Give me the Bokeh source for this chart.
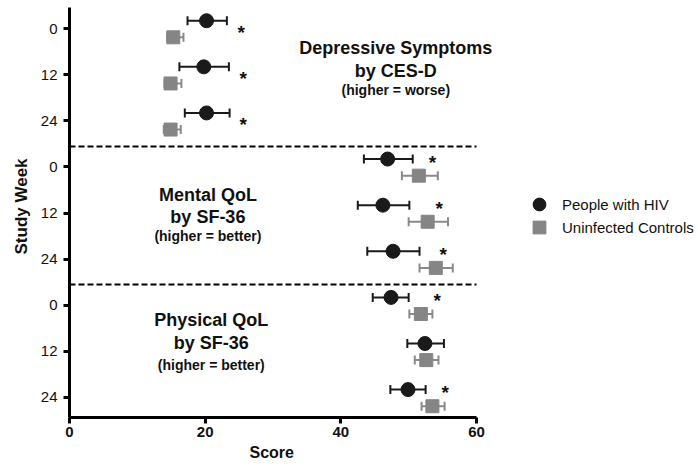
from bokeh.plotting import figure
from bokeh.models import (Range1d, FixedTicker, Whisker, ColumnDataSource, Legend,
                          LegendItem, Label, TeeHead, Title)
from bokeh.embed import file_html
from bokeh.resources import INLINE
from bokeh.core.properties import value

FONT = "Liberation Sans"

# ---------------- data ----------------
weeks = ["0", "12", "24"]
groups = ["Depressive Symptoms", "Mental QoL", "Physical QoL"]
hiv_mean = [20.2, 19.8, 20.2, 46.9, 46.2, 47.7, 47.4, 52.4, 49.9]
hiv_lo = [17.4, 16.2, 17.0, 43.4, 42.5, 43.9, 44.7, 49.8, 47.3]
hiv_hi = [23.2, 23.5, 23.6, 50.6, 50.1, 51.6, 50.0, 55.2, 52.5]
ctl_mean = [15.3, 14.9, 14.9, 51.5, 52.8, 54.0, 51.8, 52.6, 53.5]
ctl_lo = [14.4, 14.0, 13.9, 49.0, 50.0, 51.6, 50.1, 50.9, 51.9]
ctl_hi = [16.8, 16.5, 16.4, 54.3, 55.8, 56.5, 53.5, 54.4, 55.3]
significant = [True, True, True, True, True, True, True, False, True]
star_x = [25.3, 25.6, 25.6, 53.5, 54.5, 55.1, 54.2, 0, 55.4]
x_ticks = [0, 20, 40, 60]
x_axis_max = 60

rows = list(range(len(hiv_mean)))
hiv_y = [r - 0.17 for r in rows]
ctl_y = [r + 0.19 for r in rows]

hiv_src = ColumnDataSource(dict(x=hiv_mean, y=hiv_y, lo=hiv_lo, hi=hiv_hi))
ctl_src = ColumnDataSource(dict(x=ctl_mean, y=ctl_y, lo=ctl_lo, hi=ctl_hi))

# frame: 0..60 spans 407 px; frame extended to the right to host the legend
frame_w = 629
p = figure(width=698, height=467, output_backend="svg", toolbar_location=None,
           x_range=Range1d(0, x_axis_max * frame_w / 407.0),
           y_range=Range1d(8.435, -0.457),
           min_border_left=69, min_border_right=0, min_border_top=7,
           min_border_bottom=50)
p.outline_line_color = None
p.xgrid.visible = False
p.ygrid.visible = False

# error bars
for src, col in ((hiv_src, "#1a1a1a"), (ctl_src, "#8a8a8a")):
    w = Whisker(base="y", lower="lo", upper="hi", dimension="width", source=src,
                line_color=col, line_width=2,
                upper_head=TeeHead(size=9, line_color=col, line_width=2),
                lower_head=TeeHead(size=9, line_color=col, line_width=2))
    w.level = "underlay"
    p.add_layout(w)

r_hiv = p.scatter("x", "y", source=hiv_src, marker="circle", size=14,
                  fill_color="#1a1a1a", line_color="#1a1a1a")
r_ctl = p.scatter("x", "y", source=ctl_src, marker="square", size=13,
                  fill_color="#858585", line_color="#858585")

# significance asterisks
sx = [x for x, s in zip(star_x, significant) if s]
sy = [r + (0.08 if r < 3 else -0.1) for r, s in zip(rows, significant) if s]
p.text(x=sx, y=sy, text=["*"] * len(sx), text_font=value(FONT),
       text_font_style="bold", text_font_size="19px", text_align="center",
       text_baseline="middle", text_color="#111111")

# separators (group boundaries)
seps = [2.56, 5.55]
p.segment(x0=[0] * len(seps), x1=[x_axis_max] * len(seps), y0=seps, y1=seps,
          line_color="black", line_width=2, line_dash="6 3")

# group titles
titles = [
    (48.1, [0.43, 0.93, 1.33], ["Depressive Symptoms", "by CES-D", "(higher = worse)"]),
    (20.4, [3.61, 4.09, 4.5], ["Mental QoL", "by SF-36", "(higher = better)"]),
    (20.9, [6.33, 6.83, 7.3], ["Physical QoL", "by SF-36", "(higher = better)"]),
]
for x, ys, txts in titles:
    for i, (yy, t) in enumerate(zip(ys, txts)):
        p.add_layout(Label(x=x, y=yy, text=t, text_font=FONT, text_font_style="bold",
                           text_font_size="14px" if i == 2 else "18px",
                           text_align="center", text_baseline="middle",
                           text_color="#111111"))

# axes
p.xaxis.ticker = FixedTicker(ticks=x_ticks)
p.xaxis.bounds = (0, x_axis_max)
p.yaxis.ticker = FixedTicker(ticks=rows)
p.yaxis.major_label_overrides = {r: weeks[r % 3] for r in rows}
for ax in (p.xaxis[0], p.yaxis[0]):
    ax.axis_line_width = 3
    ax.axis_line_color = "black"
    ax.major_tick_line_width = 3
    ax.major_tick_out = 6
    ax.major_tick_in = 0
    ax.minor_tick_line_color = None
    ax.major_label_text_font = FONT
    ax.major_label_text_font_size = "15px"
    ax.major_label_text_color = "#111111"
p.xaxis.major_label_text_font_style = "bold"
p.yaxis.major_label_text_font_style = "normal"
p.xaxis.major_label_standoff = 3
p.yaxis.major_label_standoff = 6

# axis titles, placed like the reference (centred under the 0-60 axis span)
x_title = Title(text="Score", align="left", offset=180, text_font=FONT,
                text_font_style="bold", text_font_size="16px", text_color="#111111",
                standoff=8, vertical_align="top")
p.add_layout(x_title, "below")
y_title = Title(text="Study Week", align="left", offset=163, text_font=FONT,
                text_font_style="bold", text_font_size="17px", text_color="#111111",
                standoff=12, vertical_align="middle")
p.add_layout(y_title, "left")

legend_common = dict(border_line_color=None, background_fill_alpha=0, padding=0,
                     margin=0, spacing=0, glyph_width=32, glyph_height=32,
                     label_standoff=7, label_text_font=FONT,
                     label_text_font_size="15px", label_text_color="#111111",
                     label_height=20)
leg1 = Legend(items=[LegendItem(label="People with HIV", renderers=[r_hiv])],
              location=(454, 197), **legend_common)
leg2 = Legend(items=[LegendItem(label="Uninfected Controls", renderers=[r_ctl])],
              location=(454, 174), **legend_common)
p.add_layout(leg1, "center")
p.add_layout(leg2, "center")

open("out.html", "w").write(file_html(p, INLINE))
